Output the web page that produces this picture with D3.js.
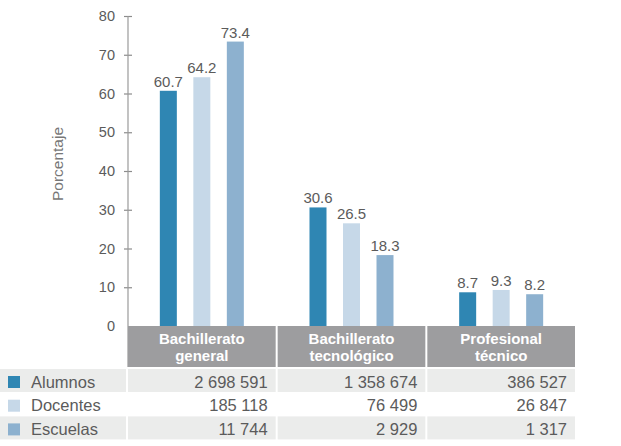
<!DOCTYPE html>
<html>
<head>
<meta charset="utf-8">
<script src="https://cdn.jsdelivr.net/npm/d3@7"></script>
<style>
  html, body { margin: 0; padding: 0; background: #fff; }
  svg { display: block; font-family: "Liberation Sans", Arial, Helvetica, sans-serif; }
</style>
</head>
<body>
<svg id="chart" width="621" height="446"></svg>
<script>
// ---- data ----
const categories = ["Bachillerato general", "Bachillerato tecnológico", "Profesional técnico"];
const categoryLines = [["Bachillerato", "general"], ["Bachillerato", "tecnológico"], ["Profesional", "técnico"]];
const series = ["Alumnos", "Docentes", "Escuelas"];
const alumnosPct = [60.7, 30.6, 8.7];
const docentesPct = [64.2, 26.5, 9.3];
const escuelasPct = [73.4, 18.3, 8.2];
const alumnosCount = [2698591, 1358674, 386527];
const docentesCount = [185118, 76499, 26847];
const escuelasCount = [11744, 2929, 1317];
const yTicks = [0, 10, 20, 30, 40, 50, 60, 70, 80];
const yTitle = "Porcentaje";

const pctBySeries = { Alumnos: alumnosPct, Docentes: docentesPct, Escuelas: escuelasPct };
const countBySeries = { Alumnos: alumnosCount, Docentes: docentesCount, Escuelas: escuelasCount };
const colors = { Alumnos: "#2f86b3", Docentes: "#c6d8e8", Escuelas: "#8db1cf" };

const svg = d3.select("#chart");
const textColor = "#5b5b5b";

const x0 = d3.scaleBand().domain(categories).range([128, 577]).paddingInner(0).paddingOuter(0);
const x1 = d3.scaleBand().domain(series).range([-42, 42]).paddingInner(0.4925).paddingOuter(0);
const y = d3.scaleLinear().domain([0, 80]).range([326, 16]);

const fmtCount = d3.formatLocale({ decimal: ".", thousands: " ", grouping: [3], currency: ["", ""] }).format(",d");
const fmtPct = d3.format(".1f");

// ---- y axis ----
const yAxis = d3.axisLeft(y).tickValues(yTicks).tickSizeInner(4).tickSizeOuter(0).tickPadding(9);
const gy = svg.append("g").attr("transform", "translate(128,0)").call(yAxis);
gy.select(".domain").remove();
gy.selectAll(".tick line").attr("x1", -4).attr("x2", 4).attr("stroke", "#8c8c8c").attr("stroke-width", 1.2)
  .filter(d => d === 0).remove();
gy.selectAll(".tick text").attr("fill", textColor).attr("font-size", 14.5)
  .attr("font-family", "'Liberation Sans', Arial, sans-serif");
svg.append("line").attr("x1", 128).attr("x2", 128).attr("y1", y(80)).attr("y2", 367)
  .attr("stroke", "#9a9a9a").attr("stroke-width", 1.2);

svg.append("text").attr("transform", "translate(57,164) rotate(-90)")
  .attr("text-anchor", "middle").attr("dominant-baseline", "central")
  .attr("fill", "#777").attr("font-size", 15.5).text(yTitle);

// ---- bars ----
const groups = svg.append("g").selectAll("g").data(categories).join("g")
  .attr("transform", d => `translate(${x0(d) + (x0.bandwidth() - 2) / 2},0)`);

groups.selectAll("rect").data((c, i) => series.map(s => ({ s, v: pctBySeries[s][i] }))).join("rect")
  .attr("x", d => x1(d.s)).attr("width", x1.bandwidth())
  .attr("y", d => y(d.v)).attr("height", d => y(0) - y(d.v))
  .attr("fill", d => colors[d.s]);

groups.selectAll("text.val").data((c, i) => series.map(s => ({ s, v: pctBySeries[s][i] }))).join("text")
  .attr("class", "val")
  .attr("x", d => x1(d.s) + x1.bandwidth() / 2).attr("y", d => y(d.v) - 4)
  .attr("text-anchor", "middle").attr("fill", textColor).attr("font-size", 15)
  .text(d => fmtPct(d.v));

// ---- header cells ----
const header = svg.append("g");
header.selectAll("rect").data(categories).join("rect")
  .attr("x", d => x0(d)).attr("y", 326).attr("width", x0.bandwidth() - 2).attr("height", 41)
  .attr("fill", "#9d9d9f");
header.selectAll("text").data(categories).join("text")
  .attr("x", d => x0(d) + (x0.bandwidth() - 2) / 2)
  .attr("text-anchor", "middle").attr("fill", "#fff").attr("font-weight", "bold").attr("font-size", 15)
  .each(function (d, i) {
    const t = d3.select(this);
    categoryLines[i].forEach((line, j) => {
      t.append("tspan").attr("x", x0(d) + (x0.bandwidth() - 2) / 2).attr("y", 344 + j * 17).text(line);
    });
  });

// ---- table ----
const rowTop = i => 369 + i * 23.7;
const rows = svg.append("g").selectAll("g").data(series).join("g");
rows.each(function (s, i) {
  const g = d3.select(this);
  const shaded = i !== 1;
  if (shaded) {
    g.append("rect").attr("x", 0).attr("y", rowTop(i)).attr("width", 126).attr("height", 23).attr("fill", "#ebeceb");
    g.selectAll("rect.cell").data(categories).join("rect").attr("class", "cell")
      .attr("x", d => x0(d)).attr("y", rowTop(i)).attr("width", x0.bandwidth() - 2).attr("height", 23)
      .attr("fill", "#ebeceb");
  }
  g.append("rect").attr("x", 8).attr("y", rowTop(i) + 7).attr("width", 12).attr("height", 12).attr("fill", colors[s]);
  g.append("text").attr("x", 31).attr("y", rowTop(i) + 18.5).attr("fill", textColor).attr("font-size", 16.5).text(s);
  g.selectAll("text.num").data(categories).join("text").attr("class", "num")
    .attr("x", d => x0(d) + x0.bandwidth() - 2 - 8).attr("y", rowTop(i) + 18.5)
    .attr("text-anchor", "end").attr("fill", textColor).attr("font-size", 16.5)
    .text((d, k) => fmtCount(countBySeries[s][k]));
});
</script>
</body>
</html>
